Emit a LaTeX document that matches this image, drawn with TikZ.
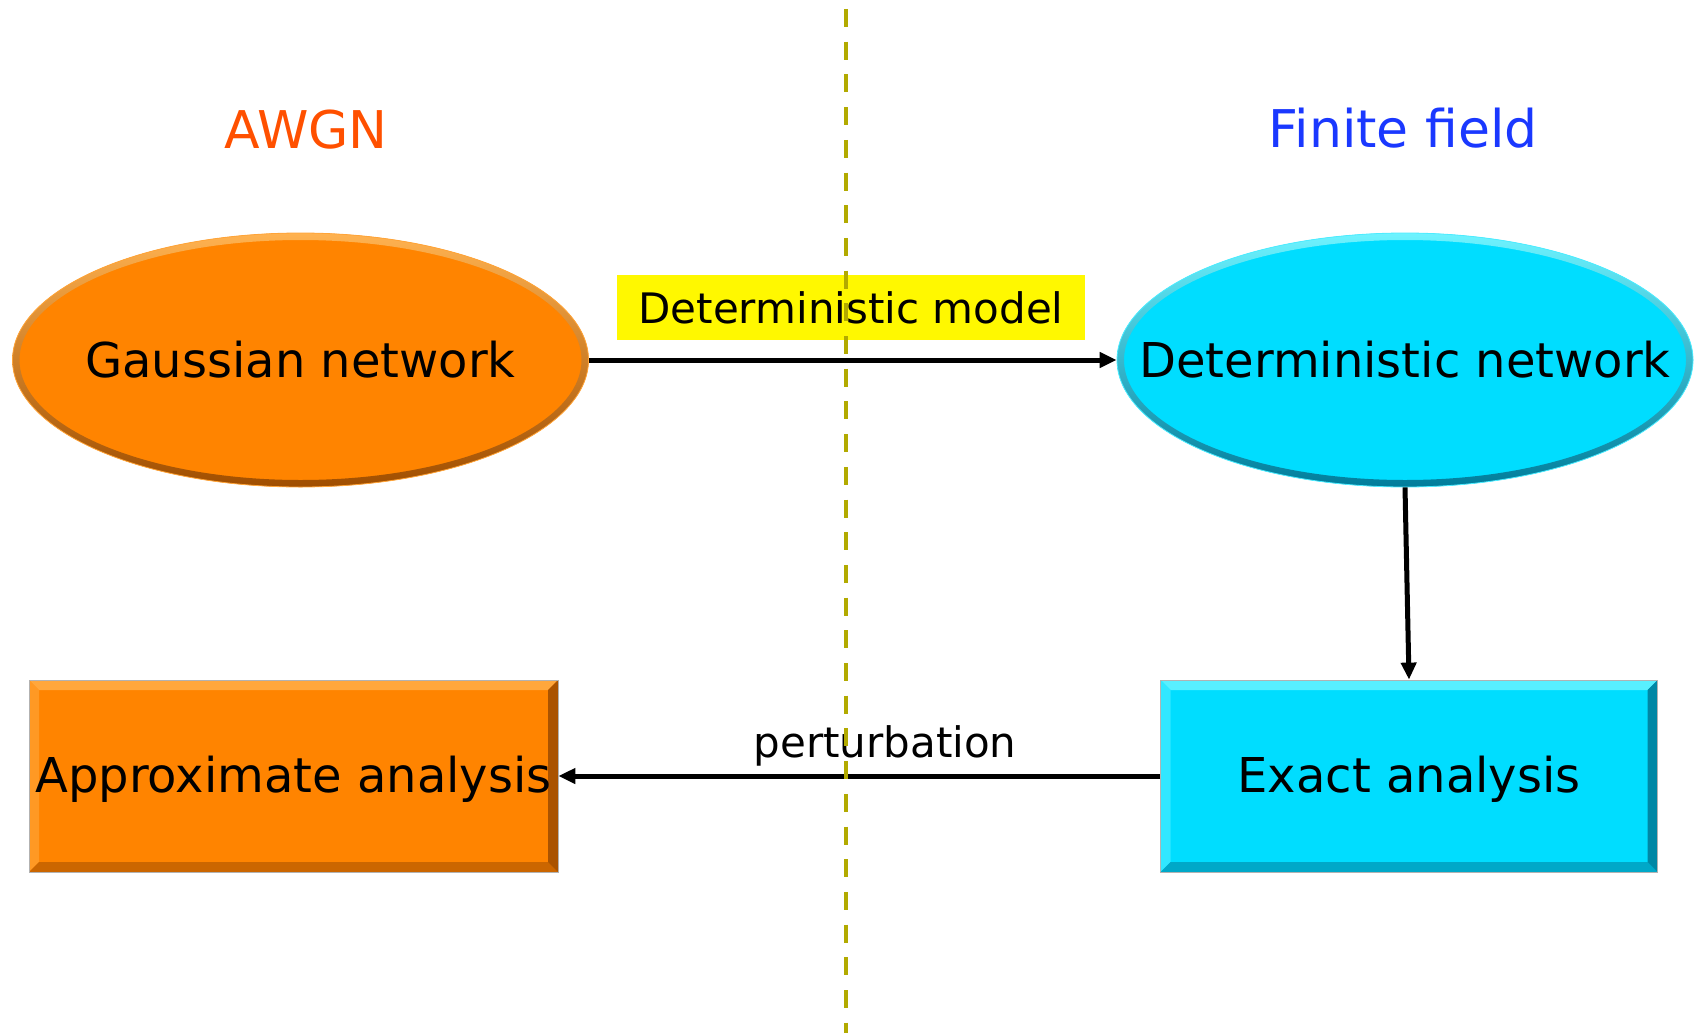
\documentclass[tikz,border=0pt]{standalone}
\usepackage{fontspec}
\setmainfont{DejaVu Sans}
\usetikzlibrary{shapes.geometric,arrows.meta}

\definecolor{orangefill}{RGB}{255,132,0}
\definecolor{orangelight}{RGB}{255,178,80}
\definecolor{orangedark}{RGB}{160,78,0}
\definecolor{cyanfill}{RGB}{0,221,255}
\definecolor{cyanlight}{RGB}{110,243,255}
\definecolor{cyandark}{RGB}{0,125,155}
\definecolor{awgncol}{RGB}{255,80,0}
\definecolor{ffcol}{RGB}{26,56,255}
\definecolor{labelyellow}{RGB}{255,248,0}
\definecolor{olive}{RGB}{178,170,0}

\newcommand{\flatlabel}[1]{\makebox[0pt]{#1}}

\tikzset{
  bigtext/.style={font=\fontsize{48}{58}\selectfont},
  midtext/.style={font=\fontsize{42}{50}\selectfont},
  titletext/.style={font=\fontsize{52}{62}\selectfont},
  % ellipse with a soft bevelled rim
  bevelellipse/.style n args={3}{
    ellipse, inner sep=0pt, minimum width=576pt, minimum height=254pt,
    fill=#1, draw=#2!70!#1, line width=0.8pt, bigtext,
    path picture={
      \shade[top color=#2, middle color=#1, bottom color=#3, even odd rule]
        (path picture bounding box.center) ellipse [x radius=288pt, y radius=127pt]
        (path picture bounding box.center) ellipse [x radius=281pt, y radius=120pt];
    }
  },
  % rectangle with bevelled edges
  bevelbox/.style n args={5}{
    rectangle, inner sep=0pt, minimum height=192pt,
    text height=38pt, text depth=6pt,
    fill=#1, draw=gray!60, line width=0.8pt, bigtext,
    path picture={
      \coordinate (bnw) at (path picture bounding box.north west);
      \coordinate (bne) at (path picture bounding box.north east);
      \coordinate (bsw) at (path picture bounding box.south west);
      \coordinate (bse) at (path picture bounding box.south east);
      \fill[#2] (bnw) -- (bne) -- ([shift={(-10pt,-10pt)}]bne) -- ([shift={(10pt,-10pt)}]bnw) -- cycle;
      \fill[#3] (bnw) -- ([shift={(10pt,-10pt)}]bnw) -- ([shift={(10pt,10pt)}]bsw) -- (bsw) -- cycle;
      \fill[#4] (bsw) -- ([shift={(10pt,10pt)}]bsw) -- ([shift={(-10pt,10pt)}]bse) -- (bse) -- cycle;
      \fill[#5] (bne) -- (bse) -- ([shift={(-10pt,10pt)}]bse) -- ([shift={(-10pt,-10pt)}]bne) -- cycle;
    }
  },
  flowarrow/.style={line width=5pt, -{Triangle[length=17pt,width=15pt]}},
  dividerline/.style={line width=4.5pt, olive, dash pattern=on 18pt off 14.7pt}
}

\begin{document}
\begin{tikzpicture}[x=1pt,y=-1pt]
  \useasboundingbox (0,0) rectangle (1699,1033);

  % column titles
  \node[titletext, text=awgncol] (awgn) at (306,130) {AWGN};
  \node[titletext, text=ffcol] (ffield) at (1403,128) {Finite field};

  % networks
  \node[bevelellipse={orangefill}{orangelight}{orangedark}] (gauss) at (300.5,360) {\flatlabel{Gaussian network}};
  \node[bevelellipse={cyanfill}{cyanlight}{cyandark}] (det) at (1405,360) {\flatlabel{Deterministic network}};

  % analyses
  \node[minimum width=529pt,
        bevelbox={orangefill}{orangelight!75!orangefill}{orangelight!45!orangefill}{orangedark!55!orangefill}{orangedark!90!orangefill}]
    (approx) at (293.5,776) {\flatlabel{Approximate analysis}};
  \node[minimum width=497pt,
        bevelbox={cyanfill}{cyanlight!80!cyanfill}{cyanlight!45!cyanfill}{cyandark!55!cyanfill}{cyandark!90!cyanfill}]
    (exact) at (1409,776) {Exact analysis};

  % connectors
  \draw[flowarrow] (gauss.east) -- (det.west);
  \draw[flowarrow] (det.south) -- (exact.north);
  \draw[flowarrow] (exact.west) -- (approx.east);

  % connector labels
  \node[midtext, fill=labelyellow, minimum width=468pt, minimum height=65pt, inner sep=0pt] (model) at (851,307.5) {Deterministic model};
  \node[midtext, inner sep=0pt] (pert) at (885,746) {perturbation};

  % divider between the two worlds
  \coordinate (divtop) at (846,9);
  \coordinate (divbot) at (846,1033);
  \draw[dividerline] (divtop) -- (divbot);
\end{tikzpicture}
\end{document}
